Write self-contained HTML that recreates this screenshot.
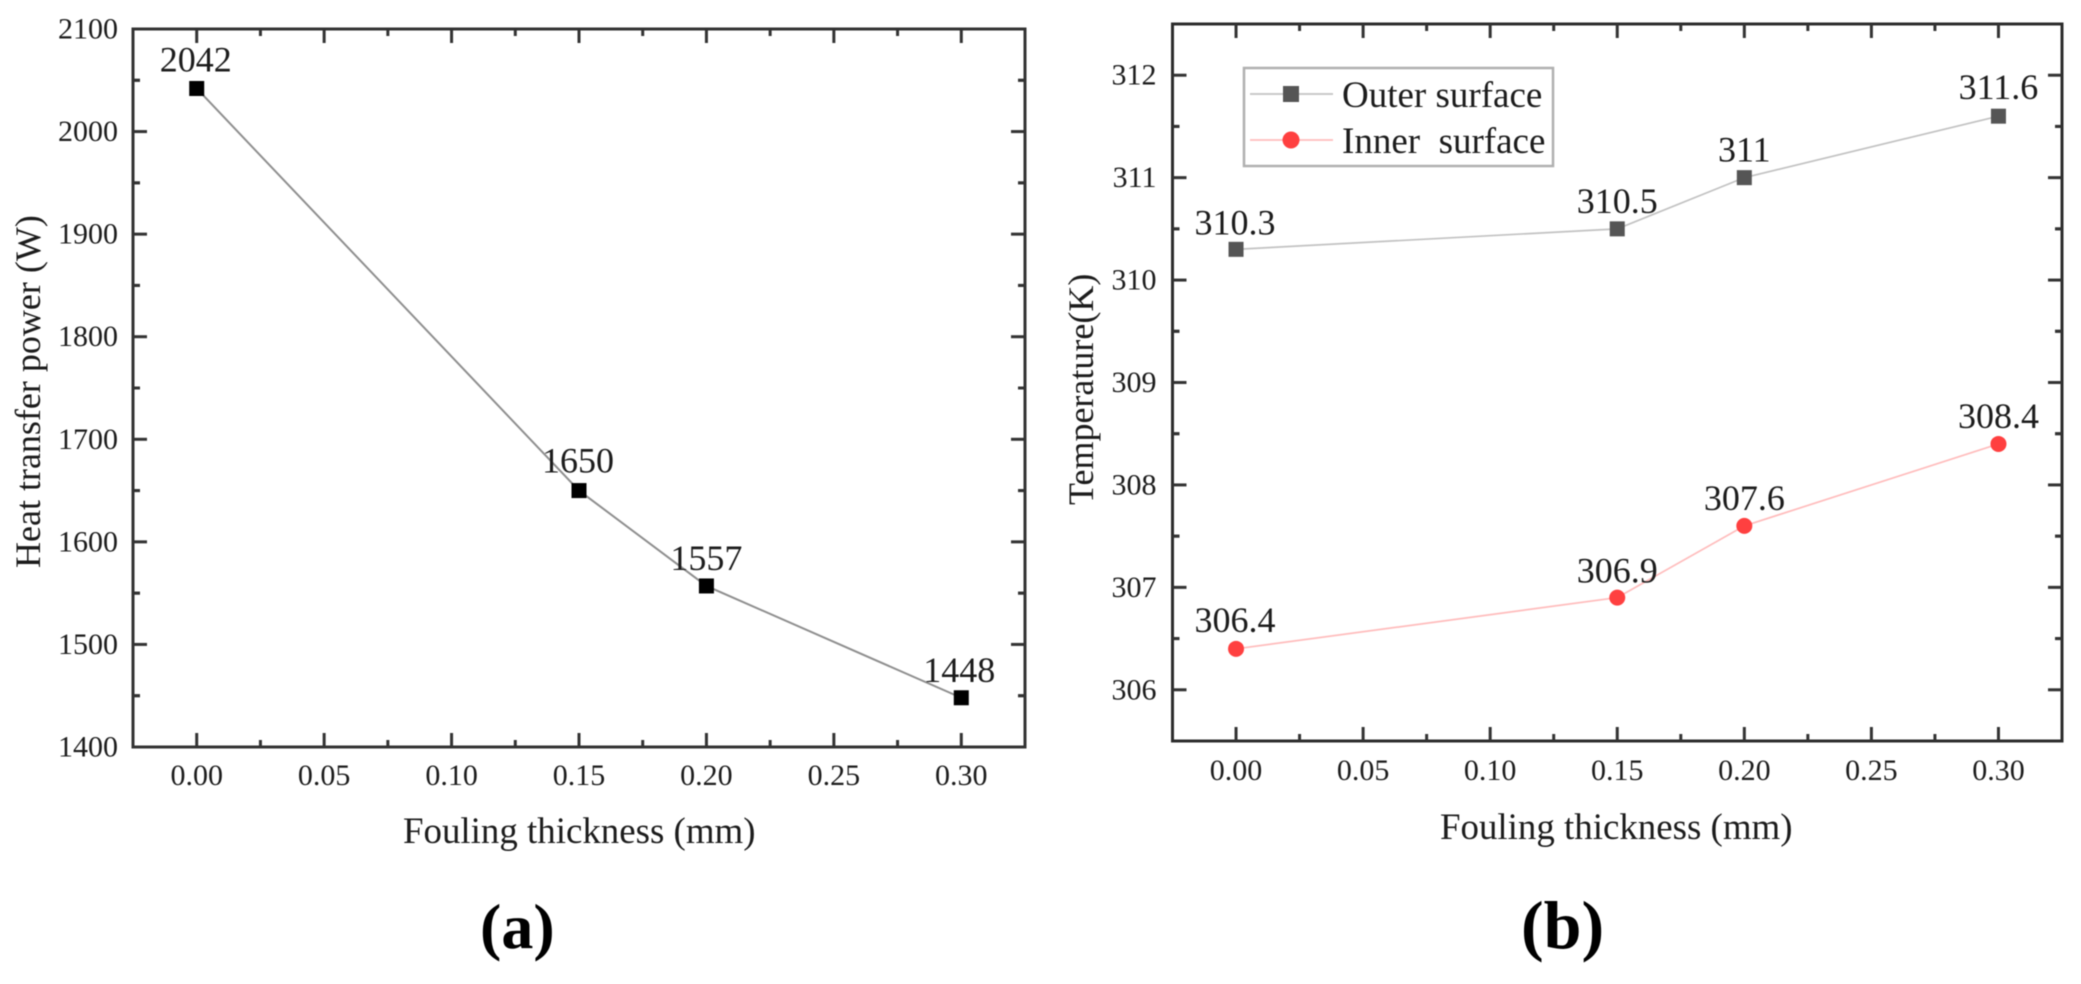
<!DOCTYPE html>
<html>
<head>
<meta charset="utf-8">
<title>Fouling thickness charts</title>
<style>
html,body{margin:0;padding:0;background:#fff;}
#stage{display:block;width:2081px;height:984px;filter:blur(0.55px);}
text{font-family:"Liberation Serif",serif;fill:#1c1c1c;}
</style>
</head>
<body>
<svg id="stage" xmlns="http://www.w3.org/2000/svg" width="2081" height="984" viewBox="0 0 2081 984">
<rect width="2081" height="984" fill="#fff"/>
</svg>
<script>
const thickness = [0, 0.15, 0.2, 0.3];
const heatPower = [2042, 1650, 1557, 1448];
const outerSurface = [310.3, 310.5, 311, 311.6];
const innerSurface = [306.4, 306.9, 307.6, 308.4];
const xTickLabels = ['0.00', '0.05', '0.10', '0.15', '0.20', '0.25', '0.30'];
const yTickLabelsA = ['1400', '1500', '1600', '1700', '1800', '1900', '2000', '2100'];
const yTickLabelsB = ['306', '307', '308', '309', '310', '311', '312'];

const svg = document.getElementById('stage');
const NS = 'http://www.w3.org/2000/svg';

function mk(tag, attrs, parent) {
  const el = document.createElementNS(NS, tag);
  for (const k in attrs) el.setAttribute(k, attrs[k]);
  (parent || svg).appendChild(el);
  return el;
}
function linear(d0, d1, r0, r1) {
  return function (v) { return r0 + (v - d0) * (r1 - r0) / (d1 - d0); };
}

const xMin = -0.025, xMax = 0.325;
const boxA = { l: 133, r: 1025, t: 29, b: 747 };
const boxB = { l: 1172.5, r: 2062, t: 24, b: 741 };
const xA = linear(xMin, xMax, boxA.l, boxA.r);
const yA = linear(1400, 2100, boxA.b, boxA.t);
const xB = linear(xMin, xMax, boxB.l, boxB.r);
const yB = linear(305.5, 312.5, boxB.b, boxB.t);

function drawAxes(panel, box, xf, yf, yLabels, labelGapX, labelBaseX, frameColor) {
  const g = mk('g', {});
  
  
  const frame = mk('rect', { x: box.l, y: box.t, width: box.r - box.l, height: box.b - box.t, fill: 'none', stroke: frameColor, 'stroke-width': 3 }, g);
  
  
  // x ticks: major at every label, minor half way between
  xTickLabels.forEach(function (lab, i) {
    const v = parseFloat(lab);
    const x = xf(v);
    [[box.b, -1], [box.t, 1]].forEach(function (side) {
      const t = mk('line', { x1: x, x2: x, y1: side[0], y2: side[0] + side[1] * 14, stroke: '#333', 'stroke-width': 3 }, g);
      
      
      if (i < xTickLabels.length - 1) {
        const xm = xf(v + 0.025);
        const m = mk('line', { x1: xm, x2: xm, y1: side[0], y2: side[0] + side[1] * 7, stroke: '#333', 'stroke-width': 3 }, g);
        
        
      }
    });
    const tx = mk('text', { x: x, y: labelBaseX, 'text-anchor': 'middle', 'font-size': 30 }, g);
    tx.textContent = lab;
    
    
  });
  // y ticks: major at every label, minor half way on both sides of it
  const step = parseFloat(yLabels[1]) - parseFloat(yLabels[0]);
  yLabels.forEach(function (lab) {
    const v = parseFloat(lab);
    const y = yf(v);
    [[box.l, 1], [box.r, -1]].forEach(function (side) {
      const t = mk('line', { x1: side[0], x2: side[0] + side[1] * 14, y1: y, y2: y, stroke: '#333', 'stroke-width': 3 }, g);
      
      
      [v - step / 2, v + step / 2].forEach(function (mv) {
        const ym = yf(mv);
        if (ym > box.t + 2 && ym < box.b - 2) {
          const m = mk('line', { x1: side[0], x2: side[0] + side[1] * 7, y1: ym, y2: ym, stroke: '#333', 'stroke-width': 3 }, g);
          
          
        }
      });
    });
    const tx = mk('text', { x: box.l - labelGapX, y: y + 9.5, 'text-anchor': 'end', 'font-size': 30 }, g);
    tx.textContent = lab;
    
    
  });
}

function drawLine(name, xf, yf, values, color, width) {
  const pts = values.map(function (v, i) { return xf(thickness[i]) + ',' + yf(v); }).join(' ');
  const l = mk('polyline', { points: pts, fill: 'none', stroke: color, 'stroke-width': width });
  
  
}
function drawSquare(name, x, y, color) {
  const s = mk('rect', { x: x - 7.5, y: y - 7.5, width: 15, height: 15, fill: color });
  
  
}
function drawCircle(name, x, y, color) {
  const c = mk('circle', { cx: x, cy: y, r: 8, fill: color });
  
  
}
function valueLabel(name, xf, yf, values, i, dx, dy) {
  const t = mk('text', { x: xf(thickness[i]) + dx, y: yf(values[i]) + dy, 'text-anchor': 'middle', 'font-size': 36 });
  t.textContent = String(values[i]);
  
  
}
function plainText(name, str, attrs) {
  const t = mk('text', attrs);
  t.textContent = str;
  
  
  return t;
}

/* panel a */
drawAxes('panel-a', boxA, xA, yA, yTickLabelsA, 15, 785, '#333');
drawLine('heat-power', xA, yA, heatPower, '#8f8f8f', 2);
thickness.forEach(function (t, i) {
  drawSquare('heat-power', xA(t), yA(heatPower[i]), '#000');
});
valueLabel('heat-power', xA, yA, heatPower, 0, -1, -17);
valueLabel('heat-power', xA, yA, heatPower, 1, -1, -18);
valueLabel('heat-power', xA, yA, heatPower, 2, 0, -16);
valueLabel('heat-power', xA, yA, heatPower, 3, -2, -16);
plainText('panel-a-x-axis-title', 'Fouling thickness (mm)', { x: 403, y: 843, 'font-size': 36.9 });
plainText('panel-a-y-axis-title', 'Heat transfer power (W)', { transform: 'translate(40,568) rotate(-90)', 'font-size': 36 });
plainText('panel-a-caption', '(a)', { x: 480, y: 948, 'font-size': 64, 'font-weight': 'bold', style: 'fill:#000' });

/* panel b */
drawAxes('panel-b', boxB, xB, yB, yTickLabelsB, 16, 780, '#2c2c2c');
drawLine('outer-surface', xB, yB, outerSurface, '#c2c2c2', 1.7);
drawLine('inner-surface', xB, yB, innerSurface, '#ffbcbc', 1.7);
thickness.forEach(function (t, i) {
  drawSquare('outer-surface', xB(t), yB(outerSurface[i]), '#555');
  drawCircle('inner-surface', xB(t), yB(innerSurface[i]), '#ff4040');
});
valueLabel('outer-surface', xB, yB, outerSurface, 0, -1, -15);
valueLabel('outer-surface', xB, yB, outerSurface, 1, 0, -16);
valueLabel('outer-surface', xB, yB, outerSurface, 2, 0, -16);
valueLabel('outer-surface', xB, yB, outerSurface, 3, 0, -17);
valueLabel('inner-surface', xB, yB, innerSurface, 0, -1, -17);
valueLabel('inner-surface', xB, yB, innerSurface, 1, 0, -15);
valueLabel('inner-surface', xB, yB, innerSurface, 2, 0, -16);
valueLabel('inner-surface', xB, yB, innerSurface, 3, 0, -16);
plainText('panel-b-x-axis-title', 'Fouling thickness (mm)', { x: 1440, y: 839, 'font-size': 36.9 });
plainText('panel-b-y-axis-title', 'Temperature(K)', { transform: 'translate(1093,505) rotate(-90)', 'font-size': 36 });
plainText('panel-b-caption', '(b)', { x: 1521, y: 948, 'font-size': 68, 'font-weight': 'bold', style: 'fill:#000' });

/* legend */
const legend = mk('g', {});


const legendBox = mk('rect', { x: 1244, y: 68, width: 309, height: 98, fill: 'none', stroke: '#b0b0b0', 'stroke-width': 2.5 }, legend);


const legendLineOuter = mk('line', { x1: 1250, x2: 1333, y1: 94, y2: 94, stroke: '#c2c2c2', 'stroke-width': 1.7 }, legend);


const legendMarkOuter = mk('rect', { x: 1283, y: 86, width: 16, height: 16, fill: '#555' }, legend);


const legendLineInner = mk('line', { x1: 1250, x2: 1333, y1: 140, y2: 140, stroke: '#ffbcbc', 'stroke-width': 1.7 }, legend);


const legendMarkInner = mk('circle', { cx: 1291, cy: 140, r: 8.5, fill: '#ff4040' }, legend);


const legendTextOuter = mk('text', { x: 1342, y: 107, 'font-size': 37 }, legend);
legendTextOuter.textContent = 'Outer surface';


const legendTextInner = mk('text', { x: 1342, y: 153, 'font-size': 37, style: 'white-space:pre' }, legend);
legendTextInner.textContent = 'Inner  surface';


</script>
</body>
</html>
